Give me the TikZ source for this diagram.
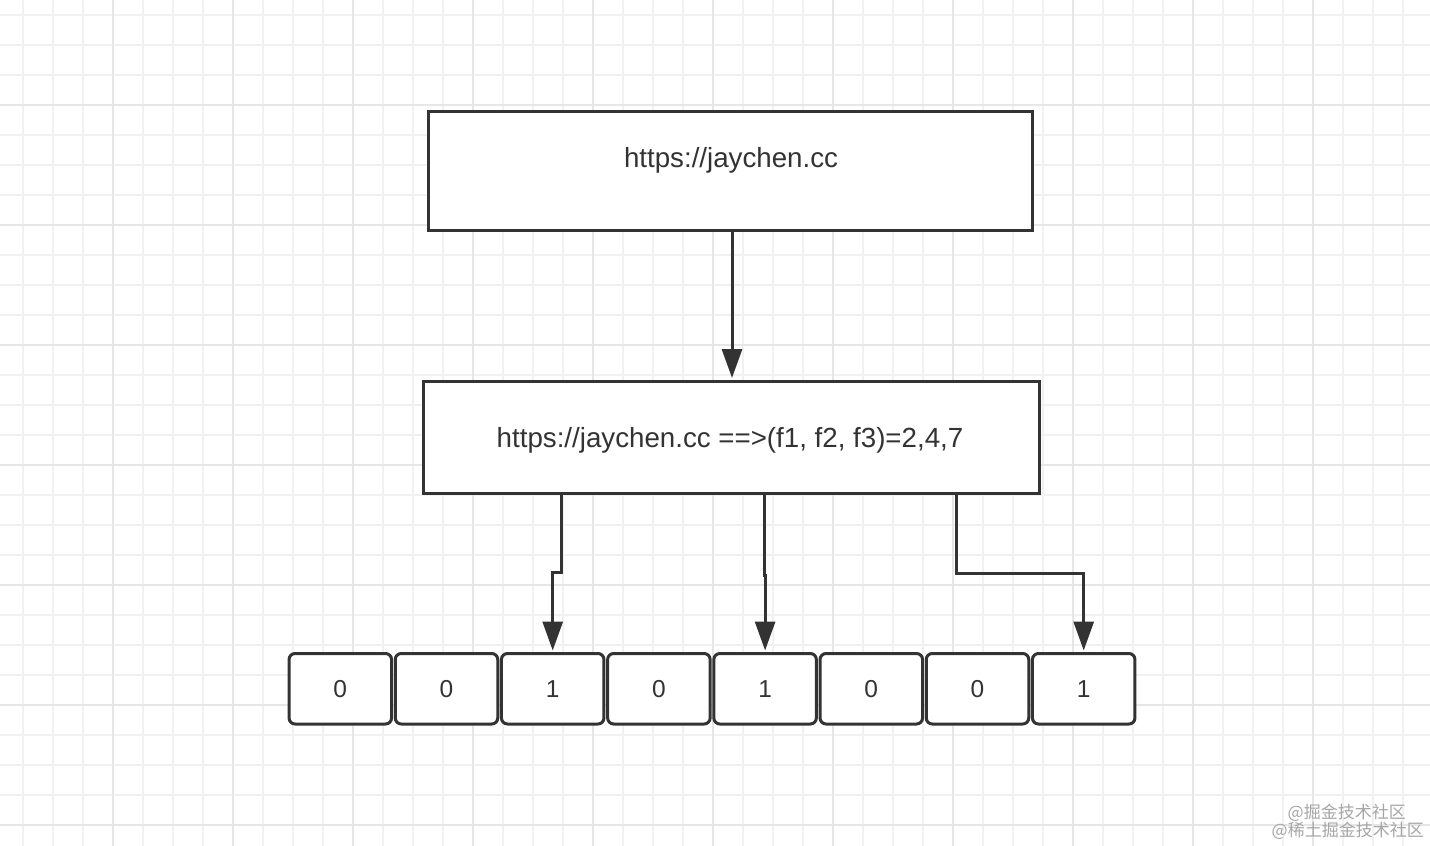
\documentclass[tikz,border=0pt]{standalone}
\usepackage{fontspec}
\setmainfont{Liberation Sans}
\newfontfamily\cjkfont{Noto Sans CJK SC}
\usetikzlibrary{arrows.meta}
\definecolor{ink}{HTML}{333333}
\definecolor{gridminor}{HTML}{F1F1F1}
\definecolor{gridmajor}{HTML}{E6E6E6}
\definecolor{wm}{HTML}{A6A6A6}
\begin{document}
\begin{tikzpicture}[x=1pt,y=-1pt,
  box/.style={draw=ink, line width=3pt, fill=white, outer sep=0pt, inner sep=0pt},
  cell/.style={box, rounded corners=6pt, minimum width=102.5pt, minimum height=70.5pt,
               text=ink, font=\fontsize{24.5}{28}\selectfont},
  lbl/.style={text=ink, font=\fontsize{27.7}{30}\selectfont, anchor=base, inner sep=0pt},
  arr/.style={draw=ink, line width=3pt, -{Triangle[length=29pt,width=20pt]}},
  wmark/.style={text=wm, font=\cjkfont\fontsize{17}{19}\selectfont, anchor=base east, inner sep=0pt},
  minorline/.style={draw=gridminor, line width=1.5pt},
  majorline/.style={draw=gridmajor, line width=1.8pt}]
\fill[white] (0,0) rectangle (1430,846);
\useasboundingbox (0,0) rectangle (1430,846);
% grid
\foreach \x in {23,53,...,1430} \draw[minorline] (\x,0) -- (\x,846);
\foreach \y in {15,45,...,846} \draw[minorline] (0,\y) -- (1430,\y);
\foreach \x in {113,233,...,1430} \draw[majorline] (\x,0) -- (\x,846);
\foreach \y in {105,225,...,846} \draw[majorline] (0,\y) -- (1430,\y);
% boxes
\node[box, minimum width=604pt, minimum height=119pt] (b1) at (730.5,171) {};
\node[lbl] (t1) at (731,167) {https://jaychen.cc};
\node[box, minimum width=616pt, minimum height=112pt] (b2) at (731.5,437.5) {};
\node[lbl] (t2) at (730,447) {https://jaychen.cc ==>(f1, f2, f3)=2,4,7};
% bit cells
\foreach \v [count=\i] in {0,0,1,0,1,0,0,1}
  \node[cell] (c\i) at ({340.3+106.2*(\i-1)},688.75) {\v};
% connectors
\draw[arr, shorten >=3.5pt] ([xshift=1.5pt]b1.south) -- ([xshift=1.5pt]b1.south |- b2.north);
\draw[arr, shorten >=3pt] ([xshift=137.5pt]b2.south west) -- ++(0,78.5) -| (c3.north);
\draw[arr, shorten >=3pt] ([xshift=340.5pt]b2.south west) -- ++(0,81.5) -| (c5.north);
\draw[arr, shorten >=3pt] ([xshift=532.5pt]b2.south west) -- ++(0,79.5) -| (c8.north);
% watermark
\node[wmark] (w1) at (1406,818.5) {@掘金技术社区};
\node[wmark] (w2) at (1424,836) {@稀土掘金技术社区};
\end{tikzpicture}
\end{document}
